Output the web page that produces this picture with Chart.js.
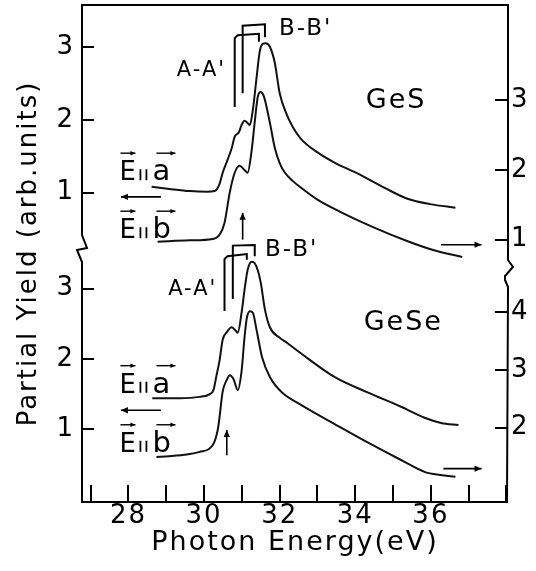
<!DOCTYPE html>
<html>
<head>
<meta charset="utf-8">
<script src="https://cdn.jsdelivr.net/npm/chart.js@4.4.1/dist/chart.umd.min.js"></script>
<style>
  html, body { margin: 0; padding: 0; background: #fff; }
  canvas { display: block; }
</style>
</head>
<body>
<canvas id="spectra" width="536" height="571"></canvas>
<script>
// GeS, E || a  (left scale, upper panel)
const gesA_energy = [28.61, 29.08, 29.62, 30.07, 30.28, 30.41, 30.49, 30.62, 30.73, 30.81, 30.92, 30.99, 31.07, 31.15, 31.21, 31.29, 31.39, 31.47, 31.55, 31.63, 31.74, 31.87, 32.00, 32.19, 32.35, 32.56, 33.01, 33.46, 34.07, 34.79, 35.40, 35.98, 36.65];
const gesA_yield = [1.08, 1.05, 1.02, 1.01, 1.02, 1.12, 1.27, 1.45, 1.61, 1.77, 1.83, 1.93, 1.99, 1.96, 1.93, 2.14, 2.59, 2.94, 3.05, 3.06, 3.01, 2.79, 2.37, 2.07, 1.90, 1.74, 1.55, 1.41, 1.26, 1.06, 0.91, 0.84, 0.79];

// GeS, E || b  (right scale, upper panel)
const gesB_energy = [28.77, 29.62, 30.23, 30.41, 30.54, 30.68, 30.81, 30.94, 31.07, 31.15, 31.26, 31.34, 31.42, 31.50, 31.58, 31.74, 31.87, 32.00, 32.14, 32.35, 32.53, 33.01, 33.60, 34.47, 35.37, 36.06, 36.83];
const gesB_yield = [0.97, 0.99, 1.01, 1.07, 1.24, 1.68, 1.96, 2.06, 2.00, 1.96, 2.29, 2.69, 3.05, 3.12, 3.06, 2.68, 2.32, 2.10, 1.96, 1.84, 1.76, 1.57, 1.40, 1.18, 0.98, 0.85, 0.75];

// GeSe, E || a  (left scale, lower panel)
const geseA_energy = [28.63, 29.35, 29.88, 30.15, 30.25, 30.33, 30.41, 30.49, 30.60, 30.73, 30.84, 30.89, 30.99, 31.07, 31.15, 31.26, 31.34, 31.42, 31.50, 31.61, 31.74, 32.00, 32.19, 32.56, 33.46, 34.34, 35.21, 35.85, 36.27, 36.73];
const geseA_yield = [1.44, 1.44, 1.46, 1.50, 1.56, 1.77, 1.98, 2.27, 2.38, 2.45, 2.40, 2.37, 2.65, 2.98, 3.26, 3.38, 3.36, 3.26, 3.08, 2.70, 2.45, 2.30, 2.23, 2.08, 1.74, 1.52, 1.32, 1.16, 1.09, 1.06];

// GeSe, E || b  (right scale, lower panel)
const geseB_energy = [28.74, 29.48, 29.88, 30.23, 30.36, 30.41, 30.49, 30.60, 30.68, 30.78, 30.89, 30.99, 31.07, 31.13, 31.21, 31.29, 31.39, 31.53, 31.74, 32.08, 32.53, 33.60, 34.34, 35.21, 35.85, 36.25, 36.65];
const geseB_yield = [1.49, 1.53, 1.58, 1.70, 1.96, 2.19, 2.62, 2.83, 2.91, 2.84, 2.65, 2.97, 3.57, 3.90, 4.02, 3.99, 3.69, 3.23, 2.88, 2.60, 2.41, 2.01, 1.74, 1.44, 1.23, 1.18, 1.15];

// tick labels
const energyTicks = [27, 28, 29, 30, 31, 32, 33, 34, 35, 36, 37, 38];
const energyTickLabels = [28, 30, 32, 34, 36];
const gesLeftTicks = [1, 2, 3];
const gesRightTicks = [1, 2, 3];
const geseLeftTicks = [1, 2, 3];
const geseRightTicks = [2, 3, 4];

const FONT = "'DejaVu Sans', sans-serif";
Chart.defaults.font.family = FONT;
Chart.defaults.color = '#000';

const toPoints = (xs, ys) => xs.map((x, i) => ({ x, y: ys[i] }));

const curve = (data, yAxisID) => ({
  data, yAxisID,
  borderColor: '#111',
  borderWidth: 2,
  pointRadius: 0,
  cubicInterpolationMode: 'monotone',
  fill: false
});

// one y axis per panel and side; the two on each side share a column (stack)
const panelAxis = (position, stack, weight, stackWeight, min, max, tickValues) => ({
  type: 'linear', position, stack, stackWeight, weight, min, max,
  afterBuildTicks: s => { s.ticks = tickValues.map(v => ({ value: v })); },
  afterFit: s => {
    s.width = position === 'left' ? 38 : 28;
    s.paddingTop = 0; s.paddingBottom = 0;
  },
  ticks: { autoSkip: false, padding: position === 'left' ? 19 : 16, color: '#000', font: { size: 26 } },
  grid: { drawOnChartArea: false, tickLength: position === 'left' ? -12 : -13, color: '#000', lineWidth: 2 },
  border: { display: false }
});

// labels, brackets and arrows, placed in data units of the x axis and a panel's left axis
const notes = {
  texts: [
    { axis: 'yGeS', x: 29.93, y: 2.68, text: "A-A'", size: 21, align: 'center' },
    { axis: 'yGeS', x: 31.98, y: 3.26, text: "B-B'", size: 23, align: 'left' },
    { axis: 'yGeS', x: 35.08, y: 2.26, text: 'GeS', size: 27, align: 'center' },
    { axis: 'yGeSe', x: 29.70, y: 2.99, text: "A-A'", size: 21, align: 'center' },
    { axis: 'yGeSe', x: 31.61, y: 3.55, text: "B-B'", size: 23, align: 'left' },
    { axis: 'yGeSe', x: 35.27, y: 2.51, text: 'GeSe', size: 27, align: 'center' }
  ],
  brackets: [
    { axis: 'yGeS', pts: [[30.81, 2.18], [30.81, 3.13], [30.89, 3.17], [31.45, 3.19], [31.45, 3.08]] },
    { axis: 'yGeS', pts: [[31.02, 2.37], [31.02, 3.30], [31.61, 3.32], [31.61, 3.14]] },
    { axis: 'yGeSe', pts: [[30.54, 2.68], [30.54, 3.42], [30.62, 3.46], [31.13, 3.49], [31.13, 3.41]] },
    { axis: 'yGeSe', pts: [[30.76, 2.85], [30.76, 3.61], [31.34, 3.62], [31.34, 3.46]] }
  ],
  arrows: [
    { axis: 'yGeS', from: [28.86, 0.94], to: [27.80, 0.94] },
    { axis: 'yGeS', from: [36.27, 0.28], to: [37.34, 0.28] },
    { axis: 'yGeS', from: [31.02, 0.35], to: [31.02, 0.72] },
    { axis: 'yGeSe', from: [28.86, 1.27], to: [27.80, 1.27] },
    { axis: 'yGeSe', from: [36.33, 0.44], to: [37.34, 0.44] },
    { axis: 'yGeSe', from: [30.60, 0.63], to: [30.60, 0.99] }
  ],
  vectors: [
    { axis: 'yGeS', x: 27.76, y: 1.17, letter: 'a' },
    { axis: 'yGeS', x: 27.76, y: 0.37, letter: 'b' },
    { axis: 'yGeSe', x: 27.76, y: 1.52, letter: 'a' },
    { axis: 'yGeSe', x: 27.76, y: 0.68, letter: 'b' }
  ]
};

function arrowLine(ctx, x1, y1, x2, y2, head) {
  ctx.beginPath();
  ctx.moveTo(x1, y1);
  ctx.lineTo(x2, y2);
  ctx.stroke();
  const a = Math.atan2(y2 - y1, x2 - x1);
  ctx.beginPath();
  ctx.moveTo(x2, y2);
  ctx.lineTo(x2 - head * Math.cos(a) + head * 0.45 * Math.sin(a), y2 - head * Math.sin(a) - head * 0.45 * Math.cos(a));
  ctx.lineTo(x2 - head * Math.cos(a) - head * 0.45 * Math.sin(a), y2 - head * Math.sin(a) + head * 0.45 * Math.cos(a));
  ctx.closePath();
  ctx.fill();
}

const figureExtras = {
  id: 'figureExtras',
  beforeDraw(chart) {
    chart.ctx.letterSpacing = '2px';
  },
  afterDraw(chart) {
    const { ctx, chartArea, scales } = chart;
    const at = (axis, x, y) => [scales.x.getPixelForValue(x), scales[axis].getPixelForValue(y)];
    ctx.save();
    ctx.strokeStyle = '#000';
    ctx.fillStyle = '#000';
    ctx.lineWidth = 2;
    ctx.lineJoin = 'miter';

    // frame with the two axis breaks
    const { left, right, top, bottom } = chartArea;
    const bl = scales.yGeS.bottom;
    const br = scales.yGeSR.bottom;
    ctx.beginPath();
    ctx.moveTo(left, bottom);
    ctx.lineTo(left, bl + 13);
    ctx.lineTo(left - 5, bl + 1);
    ctx.lineTo(left + 5, bl - 1);
    ctx.lineTo(left, bl - 14);
    ctx.lineTo(left, top);
    ctx.lineTo(right, top);
    ctx.lineTo(right, br - 10);
    ctx.lineTo(right + 5, br - 3);
    ctx.lineTo(right - 3, br + 6);
    ctx.lineTo(right - 3, br + 10);
    ctx.lineTo(right, br + 17);
    ctx.lineTo(right - 1, bottom);
    ctx.closePath();
    ctx.stroke();

    // peak markers
    notes.brackets.forEach(b => {
      ctx.beginPath();
      b.pts.forEach(([x, y], i) => {
        const [px, py] = at(b.axis, x, y);
        if (i === 0) ctx.moveTo(px, py); else ctx.lineTo(px, py);
      });
      ctx.stroke();
    });

    ctx.lineWidth = 1.6;
    notes.arrows.forEach(a => {
      const [x1, y1] = at(a.axis, ...a.from);
      const [x2, y2] = at(a.axis, ...a.to);
      arrowLine(ctx, x1, y1, x2, y2, 7);
    });

    ctx.textBaseline = 'middle';
    notes.texts.forEach(t => {
      const [px, py] = at(t.axis, t.x, t.y);
      ctx.font = `${t.size}px ${FONT}`;
      ctx.letterSpacing = '2px';
      ctx.textAlign = t.align;
      ctx.fillText(t.text, px, py);
    });

    // E || a, E || b with vector arrows
    ctx.textBaseline = 'alphabetic';
    ctx.textAlign = 'left';
    ctx.letterSpacing = '0px';
    notes.vectors.forEach(v => {
      const [bx, by] = at(v.axis, v.x, v.y);
      ctx.font = `26px ${FONT}`;
      ctx.fillText('E', bx, by);
      ctx.font = `29px ${FONT}`;
      ctx.fillText(v.letter, bx + 33, by);
      ctx.lineWidth = 1.8;
      ctx.beginPath();
      ctx.moveTo(bx + 21, by - 11); ctx.lineTo(bx + 21, by);
      ctx.moveTo(bx + 27, by - 11); ctx.lineTo(bx + 27, by);
      ctx.stroke();
      ctx.lineWidth = 1.4;
      arrowLine(ctx, bx + 1, by - 27, bx + 16, by - 27, 5);
      arrowLine(ctx, bx + 37, by - 27, bx + 56, by - 27, 5);
    });
    ctx.restore();
  }
};

new Chart(document.getElementById('spectra'), {
  type: 'line',
  data: {
    datasets: [
      curve(toPoints(gesA_energy, gesA_yield), 'yGeS'),
      curve(toPoints(gesB_energy, gesB_yield), 'yGeSR'),
      curve(toPoints(geseA_energy, geseA_yield), 'yGeSe'),
      curve(toPoints(geseB_energy, geseB_yield), 'yGeSeR')
    ]
  },
  options: {
    responsive: false,
    devicePixelRatio: 1,
    animation: false,
    layout: { padding: { top: 5, left: 0, right: 0, bottom: 0 }, autoPadding: false },
    plugins: { legend: { display: false }, tooltip: { enabled: false } },
    scales: {
      x: {
        type: 'linear', position: 'bottom', min: 26.77, max: 38.04,
        afterBuildTicks: s => { s.ticks = energyTicks.map(v => ({ value: v })); },
        afterFit: s => { s.height = 69; s.paddingLeft = 0; s.paddingRight = 0; },
        ticks: {
          autoSkip: false, maxRotation: 0, padding: 16, color: '#000', font: { size: 26 },
          callback: v => energyTickLabels.includes(v) ? String(v) : ''
        },
        grid: { drawOnChartArea: false, tickLength: -17, color: '#000', lineWidth: 2 },
        border: { display: false },
        title: { display: true, text: 'Photon Energy(eV)', color: '#000', font: { size: 27 }, padding: { top: 0, bottom: 12 } }
      },
      yTitle: {
        type: 'linear', position: 'left', weight: 10, min: 0, max: 1,
        afterFit: s => { s.width = 44; s.paddingTop = 0; s.paddingBottom = 0; },
        ticks: { display: false },
        grid: { display: false, drawTicks: false },
        border: { display: false },
        title: { display: true, text: 'Partial Yield (arb.units)', color: '#000', font: { size: 26 }, padding: { top: 14, bottom: 0 } }
      },
      yGeS: panelAxis('left', 'L', 2, 244, 0.221, 3.586, gesLeftTicks),
      yGeSe: panelAxis('left', 'L', 1, 253, -0.034, 3.562, geseLeftTicks),
      yGeSR: panelAxis('right', 'R', 1, 265, 0.564, 4.369, gesRightTicks),
      yGeSeR: panelAxis('right', 'R', 2, 232, 0.712, 4.733, geseRightTicks)
    }
  },
  plugins: [figureExtras]
});
</script>
</body>
</html>
